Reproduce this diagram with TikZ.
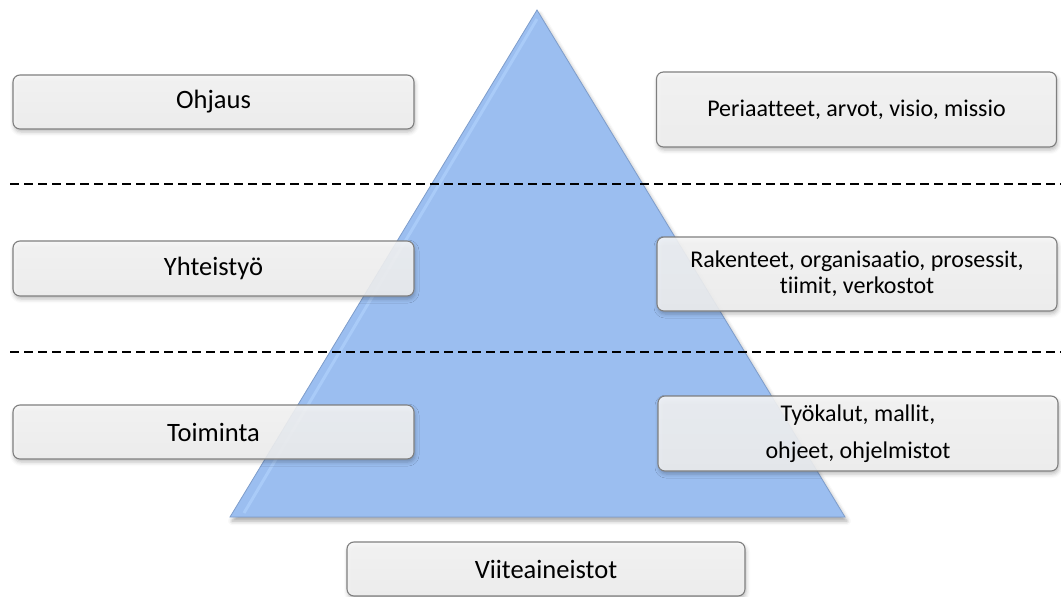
\documentclass[tikz,border=0pt]{standalone}
\usepackage{fontspec}
\setmainfont[Ligatures=NoCommon]{Carlito}
\usetikzlibrary{shadows.blur}

\definecolor{pyramid}{HTML}{9BBEF0}
\definecolor{pyramidedge}{HTML}{7E9DCB}
\definecolor{pyramidlight}{HTML}{A9CBF8}
\definecolor{boxline}{HTML}{7F7F7F}
\definecolor{boxtop}{HTML}{F8F8F8}
\definecolor{boxbottom}{HTML}{F3F3F3}

\tikzset{
  level/.style={draw=boxline, line width=1.1pt, rounded corners=7pt,
    top color=boxtop, bottom color=boxbottom, fill opacity=0.88,
    text opacity=1, align=center, inner sep=0pt,
    blur shadow={shadow xshift=1pt, shadow yshift=-3pt,
      shadow blur radius=4pt, shadow opacity=30}},
  widebox/.style={level, minimum width=401pt, minimum height=54pt,
    font=\fontsize{26.5}{31}\selectfont},
  textbox/.style={level, minimum width=400pt, minimum height=75pt,
    font=\fontsize{24}{26}\selectfont},
  divider/.style={line width=1.4pt, dash pattern=on 9pt off 5pt},
}

\begin{document}
\begin{tikzpicture}[x=1pt, y=-1pt]
  \useasboundingbox (0,0) rectangle (1061,597);

  % pyramid
  \coordinate (apex) at (537,10);
  \coordinate (bl) at (230,517);
  \coordinate (br) at (845,517);
  \fill[pyramid, blur shadow={shadow xshift=2pt, shadow yshift=-4pt,
      shadow blur radius=4pt, shadow opacity=35}]
    (apex) -- (br) -- (bl) -- cycle;
  \draw[pyramidlight, line width=3pt, line join=round]
    ($(apex)+(0,9)$) -- ($(bl)+(14,-4)$);
  \draw[pyramidedge, line width=0.8pt, line join=miter]
    (apex) -- (br) -- (bl) -- cycle;

  % layer dividers
  \coordinate (d1a) at (10,184);
  \coordinate (d1b) at (1061,184);
  \coordinate (d2a) at (10,352);
  \coordinate (d2b) at (1061,352);
  \draw[divider] (d1a) -- (d1b);
  \draw[divider] (d2a) -- (d2b);

  % left column
  \node[widebox] (ohjaus) at (213.5,102) {Ohjaus};
  \node[widebox, minimum height=55pt] (yhteistyo) at (213.5,268.5) {Yhteistyö};
  \node[widebox] (toiminta) at (213.5,432) {Toiminta};

  % right column
  \node[textbox] (periaatteet) at (856.5,109.5) {Periaatteet, arvot, visio, missio};
  \node[textbox, minimum height=74pt] (rakenteet) at (857,274)
    {\raisebox{2pt}{\parbox{390pt}{\centering Rakenteet, organisaatio, prosessit,\\tiimit, verkostot}}};
  \node[textbox, font=\fontsize{24}{37}\selectfont] (tyokalut) at (858,433.5)
    {\raisebox{-5.5pt}{\parbox{390pt}{\centering Työkalut, mallit,\\ohjeet, ohjelmistot}}};

  % base
  \node[widebox, minimum width=398pt] (viite) at (546,569) {Viiteaineistot};
\end{tikzpicture}
\end{document}
